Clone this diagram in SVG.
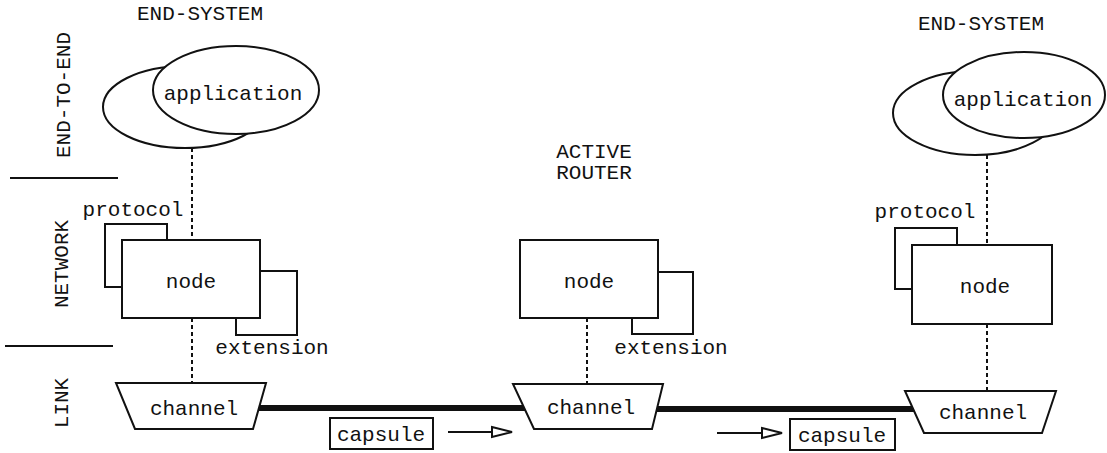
<svg xmlns="http://www.w3.org/2000/svg" width="1107" height="453" viewBox="0 0 1107 453">
  <style>
    text { font-family: "Liberation Mono", "DejaVu Sans Mono", monospace; font-size: 21px; fill: #111; }
    .mid { text-anchor: middle; }
    .shape { fill: #fff; stroke: #111; stroke-width: 2; }
    .dot { stroke: #111; stroke-width: 2; stroke-dasharray: 4 3; fill: none; }
    .rule { stroke: #111; stroke-width: 2; }
    .link { stroke: #111; stroke-width: 6; }
    .flow { stroke: #111; stroke-width: 2; marker-end: url(#open); }
  </style>
  <defs>
    <marker id="open" markerUnits="userSpaceOnUse" markerWidth="24" markerHeight="14" refX="21" refY="7" orient="auto">
      <path d="M1,2 L21,7 L1,12 Z" fill="#fff" stroke="#111" stroke-width="2"/>
    </marker>
  </defs>

  <!-- layer labels and separators -->
  <g id="layers">
    <text class="mid" transform="translate(70,95) rotate(-90)">END-TO-END</text>
    <text class="mid" transform="translate(68,264) rotate(-90)">NETWORK</text>
    <text class="mid" transform="translate(68,403) rotate(-90)">LINK</text>
    <line class="rule" x1="10" y1="178" x2="118" y2="178"/>
    <line class="rule" x1="5" y1="346" x2="113" y2="346"/>
  </g>

  <!-- titles -->
  <g id="titles">
    <text class="mid" x="200" y="20">END-SYSTEM</text>
    <text class="mid" x="981" y="30">END-SYSTEM</text>
    <text class="mid" x="594" y="158">ACTIVE</text>
    <text class="mid" x="594" y="179">ROUTER</text>
  </g>

  <!-- connectors -->
  <g id="connectors">
    <line class="dot" x1="192" y1="148" x2="192" y2="240"/>
    <line class="dot" x1="192" y1="318" x2="192" y2="383"/>
    <line class="dot" x1="587" y1="318" x2="587" y2="384"/>
    <line class="dot" x1="987" y1="155" x2="987" y2="245"/>
    <line class="dot" x1="987" y1="324" x2="987" y2="391"/>
    <line class="link" x1="250" y1="408" x2="530" y2="408"/>
    <line class="link" x1="650" y1="409" x2="918" y2="409"/>
    <line class="flow" x1="448" y1="432" x2="512" y2="432"/>
    <line class="flow" x1="717" y1="433" x2="782" y2="433"/>
  </g>

  <!-- left end-system -->
  <g id="app-left">
    <ellipse class="shape" cx="185" cy="107" rx="82" ry="41"/>
    <ellipse class="shape" cx="236" cy="90" rx="83" ry="44"/>
    <text class="mid" x="233" y="100">application</text>
  </g>
  <g id="node-left">
    <rect class="shape" x="105" y="224" width="62" height="63"/>
    <rect class="shape" x="236" y="271" width="61" height="64"/>
    <rect class="shape" x="122" y="240" width="138" height="78"/>
    <text class="mid" x="191" y="288">node</text>
    <text class="mid" x="133" y="216">protocol</text>
    <text class="mid" x="272" y="354">extension</text>
  </g>
  <g id="channel-left">
    <path class="shape" d="M116,383 L266,383 L253,429 L135,429 Z"/>
    <text class="mid" x="194" y="415">channel</text>
  </g>

  <!-- active router -->
  <g id="node-router">
    <rect class="shape" x="632" y="272" width="61" height="62"/>
    <rect class="shape" x="520" y="240" width="138" height="78"/>
    <text class="mid" x="589" y="288">node</text>
    <text class="mid" x="671" y="354">extension</text>
  </g>
  <g id="channel-router">
    <path class="shape" d="M513,384 L663,384 L652,429 L534,429 Z"/>
    <text class="mid" x="591" y="414">channel</text>
  </g>

  <!-- right end-system -->
  <g id="app-right">
    <ellipse class="shape" cx="975" cy="113" rx="82" ry="42"/>
    <ellipse class="shape" cx="1024" cy="95" rx="81" ry="43"/>
    <text class="mid" x="1023" y="106">application</text>
  </g>
  <g id="node-right">
    <rect class="shape" x="895" y="228" width="62" height="61"/>
    <rect class="shape" x="912" y="245" width="140" height="79"/>
    <text class="mid" x="985" y="293">node</text>
    <text class="mid" x="925" y="218">protocol</text>
  </g>
  <g id="channel-right">
    <path class="shape" d="M905,391 L1056,391 L1042,433 L924,433 Z"/>
    <text class="mid" x="983" y="419">channel</text>
  </g>

  <!-- capsules in transit -->
  <g id="capsule-1">
    <rect class="shape" x="330" y="418" width="103" height="31"/>
    <text class="mid" x="381" y="441">capsule</text>
  </g>
  <g id="capsule-2">
    <rect class="shape" x="790" y="419" width="105" height="31"/>
    <text class="mid" x="842" y="442">capsule</text>
  </g>
</svg>
